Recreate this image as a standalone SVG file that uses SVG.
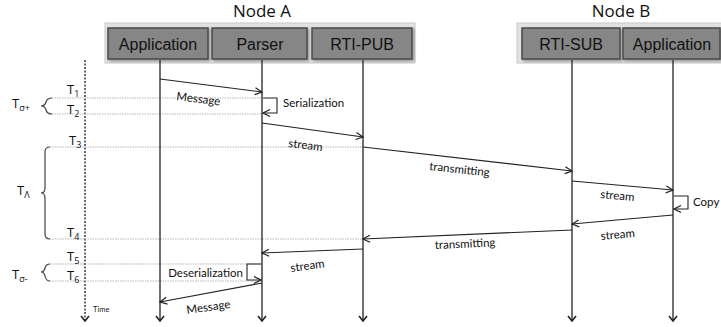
<svg xmlns="http://www.w3.org/2000/svg" width="721" height="327" viewBox="0 0 721 327">
<style>
.title{font-family:"Open Sans",Lato,sans-serif;font-size:17px;fill:#111;text-anchor:middle}
.box{fill:#868686;stroke:#4a4a4a;stroke-width:1.5}
.boxt{font-family:"Liberation Sans",Arial,sans-serif;font-size:16px;fill:#111;text-anchor:middle}
.panel{fill:#e2e2e2;stroke:#c8c8c8;stroke-width:1}
.life{stroke:#333;stroke-width:1.4;fill:none}
.msg{stroke:#222;stroke-width:1.1;fill:none}
.dot{stroke:#b5b5b5;stroke-width:1.2;stroke-dasharray:1.5 1;fill:none}
.brace{stroke:#444;stroke-width:1.2;fill:none}
.lbl{font-family:Lato,"Open Sans",sans-serif;font-size:11.5px;fill:#111}
.tl{font-family:"Open Sans",Lato,sans-serif;font-size:13px;fill:#111}
.sub{font-size:9px}
</style>
<defs>
<marker id="ah" markerWidth="10" markerHeight="10" refX="9" refY="5" orient="auto" markerUnits="userSpaceOnUse">
<path d="M2,1.5 L9,5 L2,8.5" fill="none" stroke="#222" stroke-width="1.2"/>
</marker>
<marker id="lh" markerWidth="10" markerHeight="10" refX="5" refY="9" orient="0" markerUnits="userSpaceOnUse">
<path d="M1,4 L5,9 L9,4" fill="none" stroke="#222" stroke-width="1.6"/>
</marker>
<filter id="sh" x="-5%" y="-10%" width="115%" height="130%">
<feDropShadow dx="1.5" dy="1.5" stdDeviation="1" flood-color="#000" flood-opacity="0.35"/>
</filter>
</defs>

<text class="title" x="262" y="17">Node A</text>
<text class="title" x="621" y="17">Node B</text>

<rect class="panel" x="105" y="23" width="310" height="40"/>
<rect class="panel" x="517" y="23" width="210" height="40"/>

<g id="app-a"><rect class="box" x="108" y="28" width="100" height="31" filter="url(#sh)"/><text class="boxt" x="158" y="50">Application</text></g>
<g id="parser"><rect class="box" x="212" y="28" width="95" height="31" filter="url(#sh)"/><text class="boxt" x="260" y="50">Parser</text></g>
<g id="rti-pub"><rect class="box" x="312" y="28" width="100" height="31" filter="url(#sh)"/><text class="boxt" x="362" y="50">RTI-PUB</text></g>
<g id="rti-sub"><rect class="box" x="522" y="28" width="98" height="31" filter="url(#sh)"/><text class="boxt" x="571" y="50">RTI-SUB</text></g>
<g id="app-b"><rect class="box" x="623" y="28" width="97" height="31" filter="url(#sh)"/><text class="boxt" x="672" y="50">Application</text></g>

<g id="time-axis">
<line x1="85" y1="60" x2="85" y2="321" stroke="#444" stroke-width="1.6" stroke-dasharray="2 1.5" marker-end="url(#lh)"/>
<text x="93" y="312" font-family="Lato,sans-serif" font-size="7.5" fill="#222">Time</text>
</g>

<g id="guides">
<line class="dot" x1="52" y1="98" x2="262" y2="98"/>
<line class="dot" x1="52" y1="114" x2="262" y2="114"/>
<line class="dot" x1="50" y1="147" x2="363" y2="147"/>
<line class="dot" x1="50" y1="239" x2="363" y2="239"/>
<line class="dot" x1="50" y1="264" x2="262" y2="264"/>
<line class="dot" x1="50" y1="281" x2="262" y2="281"/>
</g>

<g id="time-labels">
<text class="tl" x="67" y="94">T<tspan class="sub" dy="3">1</tspan></text>
<text class="tl" x="67" y="114">T<tspan class="sub" dy="3">2</tspan></text>
<text class="tl" x="69" y="145">T<tspan class="sub" dy="3">3</tspan></text>
<text class="tl" x="67" y="237">T<tspan class="sub" dy="3">4</tspan></text>
<text class="tl" x="67" y="261">T<tspan class="sub" dy="3">5</tspan></text>
<text class="tl" x="67" y="280">T<tspan class="sub" dy="3">6</tspan></text>
<text class="tl" x="12" y="108" font-size="14">T<tspan class="sub" dy="3">σ+</tspan></text>
<text class="tl" x="17" y="195" font-size="14">T<tspan class="sub" dy="3">Λ</tspan></text>
<text class="tl" x="12" y="279" font-size="14">T<tspan class="sub" dy="3">σ-</tspan></text>
<path class="brace" d="M52,98 Q47,98 46,102 Q45,106 41,106 Q45,106 46,110 Q47,114 52,114"/>
<path class="brace" d="M50,147 Q45,147 45,152 L45,188 Q45,193 41,193 Q45,193 45,198 L45,234 Q45,239 50,239"/>
<path class="brace" d="M50,264 Q46,264 45,268 Q44,272 41,272 Q44,272 45,276 Q46,281 50,281"/>
</g>

<g id="lifelines">
<line class="life" x1="160" y1="60" x2="160" y2="321" marker-end="url(#lh)"/>
<line class="life" x1="262" y1="60" x2="262" y2="321" marker-end="url(#lh)"/>
<line class="life" x1="363" y1="60" x2="363" y2="321" marker-end="url(#lh)"/>
<line class="life" x1="572" y1="60" x2="572" y2="321" marker-end="url(#lh)"/>
<line class="life" x1="673" y1="60" x2="673" y2="321" marker-end="url(#lh)"/>
</g>

<g id="connectors">
<line class="msg" x1="160" y1="79" x2="262" y2="92" marker-end="url(#ah)"/>
<text class="lbl" transform="translate(176,100) rotate(7)">Message</text>
<polyline class="msg" points="263,98 277,98 277,113 263,113" marker-end="url(#ah)"/>
<text class="lbl" x="283" y="107">Serialization</text>

<line class="msg" x1="262" y1="123" x2="363" y2="137" marker-end="url(#ah)"/>
<text class="lbl" transform="translate(288,147) rotate(7)">stream</text>

<line class="msg" x1="363" y1="147" x2="572" y2="171" marker-end="url(#ah)"/>
<text class="lbl" transform="translate(429,170) rotate(6)">transmitting</text>

<line class="msg" x1="572" y1="181" x2="673" y2="190" marker-end="url(#ah)"/>
<text class="lbl" transform="translate(600,198) rotate(5)">stream</text>

<polyline class="msg" points="674,196 688,196 688,209 674,209" marker-end="url(#ah)"/>
<text class="lbl" x="693" y="206">Copy</text>

<line class="msg" x1="673" y1="215" x2="572" y2="224" marker-end="url(#ah)"/>
<text class="lbl" transform="translate(601,240) rotate(-5)">stream</text>

<line class="msg" x1="572" y1="230" x2="363" y2="239" marker-end="url(#ah)"/>
<text class="lbl" transform="translate(435,249) rotate(-2.5)">transmitting</text>

<line class="msg" x1="363" y1="249" x2="262" y2="253" marker-end="url(#ah)"/>
<text class="lbl" transform="translate(291,272) rotate(-8)">stream</text>

<polyline class="msg" points="261,264 247,264 247,280 261,280" marker-end="url(#ah)"/>
<text class="lbl" x="243" y="277" text-anchor="end">Deserialization</text>

<line class="msg" x1="262" y1="283" x2="160" y2="302" marker-end="url(#ah)"/>
<text class="lbl" transform="translate(187,314) rotate(-8)">Message</text>
</g>
</svg>
